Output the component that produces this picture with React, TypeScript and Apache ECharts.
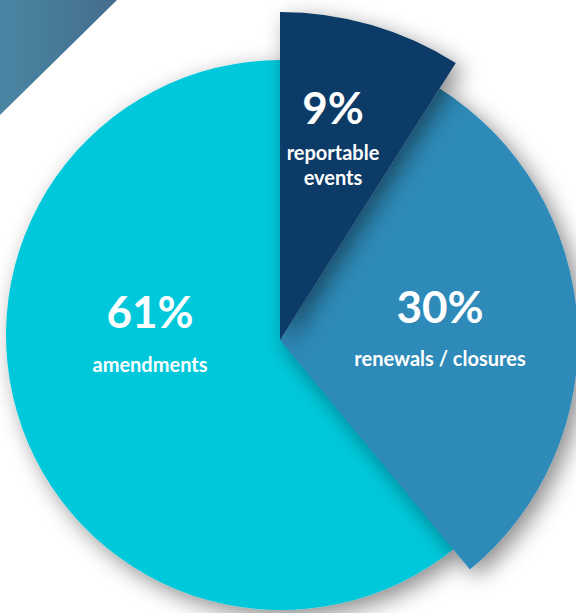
import React, { useEffect, useRef } from "react";
import * as echarts from "echarts";

const categories = ["reportable events", "renewals / closures", "amendments"];
const values = [9, 30, 61];
const percentLabels = ["9%", "30%", "61%"];
const nameLines = [["reportable", "events"], ["renewals / closures"], ["amendments"]];

const colors = ["#0E3A68", "#2D8AB8", "#00C8DB"];
const radii = [328, 298, 275];
const centers = [
  [280, 340],
  [280, 340],
  [281, 335],
];
const labelCenters = [
  [333, 107, 152, 25],
  [440, 306, 358, 25],
  [150, 311, 364, 25],
];
const FONT = "Lato, 'Open Sans', sans-serif";

export default function App() {
  const ref = useRef<HTMLDivElement>(null);
  useEffect(() => {
    document.body.style.margin = "0";
    const chart = echarts.init(ref.current!, null, { renderer: "svg" });
    const drawOrder = [2, 1, 0];
    const series = drawOrder.map((owner, k) => ({
      type: "pie",
      z: k + 2,
      center: centers[owner],
      radius: [0, radii[owner]],
      startAngle: 90,
      clockwise: true,
      silent: true,
      label: { show: false },
      labelLine: { show: false },
      emphasis: { disabled: true },
      data: categories.map((name, i) => ({
        name,
        value: values[i],
        itemStyle:
          i === owner
            ? {
                color: colors[i],
                shadowBlur: 22,
                shadowColor: "rgba(0,0,0,0.45)",
                shadowOffsetX: 7,
                shadowOffsetY: 7,
                borderWidth: 0,
              }
            : { color: "rgba(0,0,0,0)", borderWidth: 0 },
      })),
    }));
    const texts: any[] = [];
    categories.forEach((_, i) => {
      const [x, yPct, yName, lh] = labelCenters[i];
      texts.push({
        type: "text",
        x,
        y: yPct,
        z: 100,
        style: {
          text: percentLabels[i],
          fill: "#fff",
          font: `bold 44px ${FONT}`,
          textAlign: "center",
          textVerticalAlign: "middle",
        },
      });
      nameLines[i].forEach((line, j) => {
        texts.push({
          type: "text",
          x,
          y: yName + j * lh,
          z: 100,
          style: {
            text: line,
            fill: "#fff",
            font: `bold 20px ${FONT}`,
            textAlign: "center",
            textVerticalAlign: "middle",
          },
        });
      });
    });
    chart.setOption({
      animation: false,
      backgroundColor: "#ffffff",
      series,
      graphic: [
        {
          type: "polygon",
          z: 1,
          shape: { points: [[0, 0], [117, 0], [0, 115]] },
          style: {
            fill: new echarts.graphic.LinearGradient(0, 0, 1, 0, [
              { offset: 0, color: "#4A86A3" },
              { offset: 1, color: "#456C8E" },
            ]),
          },
        },
        ...texts,
      ],
    });
    return () => chart.dispose();
  }, []);
  return <div ref={ref} style={{ width: 576, height: 613 }} />;
}
